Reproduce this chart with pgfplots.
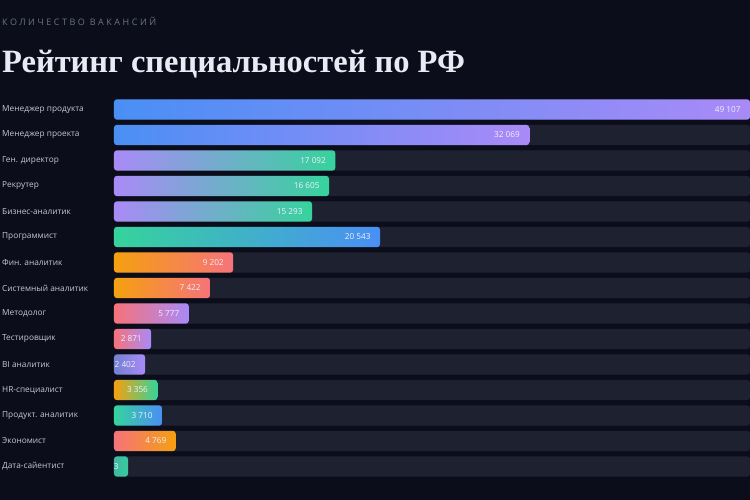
\documentclass[border=0pt]{standalone}
\usepackage{pgfplots}
\pgfplotsset{compat=1.18}
\usepackage{fontspec}
\setmainfont{Open Sans}
\newfontfamily\titlefont{Liberation Serif}
\newfontfamily\spacedfont[LetterSpace=28]{Open Sans}
\definecolor{bg}{HTML}{0B0E1A}
\definecolor{track}{HTML}{1E2130}
\definecolor{cblue}{HTML}{4A8FF5}
\definecolor{cpurple}{HTML}{A98AF7}
\definecolor{cgreen}{HTML}{36D39C}
\definecolor{corange}{HTML}{F5A00F}
\definecolor{ccoral}{HTML}{F6737A}
\definecolor{cslate}{HTML}{7381D0}
\definecolor{cteal}{HTML}{3FB9A3}
\definecolor{lbl}{HTML}{C6C9D4}
\definecolor{sub}{HTML}{6C7183}
\definecolor{ttl}{HTML}{E9EAF4}
\begin{document}
\begin{tikzpicture}[x=1pt,y=1pt]
\path[use as bounding box] (0pt,0pt) rectangle (750pt,500pt);
\fill[bg] (0pt,0pt) rectangle (750pt,500pt);
\node[anchor=base west, inner sep=0, text=sub, font=\spacedfont\fontsize{9}{10}\selectfont] at (2pt,474.5pt) {КОЛИЧЕСТВО ВАКАНСИЙ};
\node[anchor=base west, inner sep=0, text=ttl, font=\titlefont\bfseries\fontsize{32.5}{34}\selectfont] at (2pt,427.5pt) {Рейтинг специальностей по РФ};
\begin{axis}[
  at={(114pt,20.75pt)}, anchor=south west,
  scale only axis, width=636pt, height=382.5pt,
  xmin=0, xmax=49107, ymin=-0.5, ymax=14.5,
  y dir=reverse,
  axis line style={draw=none},
  major tick length=0pt,
  xtick=\empty,
  ytick={0,...,14},
  yticklabels={Менеджер продукта, Менеджер проекта, Ген. директор, Рекрутер, Бизнес-аналитик, Программист, Фин. аналитик, Системный аналитик, Методолог, Тестировщик, BI аналитик, HR-специалист, Продукт. аналитик, Экономист, Дата-сайентист},
  yticklabel style={anchor=west, inner sep=0pt, xshift=-112pt, text=lbl, font=\fontsize{8.3}{10}\selectfont},
  clip=false,
  every axis plot/.append style={xbar, bar width=0.8, bar shift=0pt, draw=none, rounded corners=3pt},
  every node near coord/.append style={anchor=east, xshift=-6pt, text=white!94!blue, font=\fontsize{8.2}{9}\selectfont},
]
\addplot[fill=track] coordinates {(49107,0) (49107,1) (49107,2) (49107,3) (49107,4) (49107,5) (49107,6) (49107,7) (49107,8) (49107,9) (49107,10) (49107,11) (49107,12) (49107,13) (49107,14)};
\addplot[left color=cblue, right color=cpurple, nodes near coords={49 107}] coordinates {(49107,0)};
\addplot[left color=cblue, right color=cpurple, nodes near coords={32 069}] coordinates {(32069,1)};
\addplot[left color=cpurple, right color=cgreen, nodes near coords={17 092}] coordinates {(17092,2)};
\addplot[left color=cpurple, right color=cgreen, nodes near coords={16 605}] coordinates {(16605,3)};
\addplot[left color=cpurple, right color=cgreen, nodes near coords={15 293}] coordinates {(15293,4)};
\addplot[left color=cgreen, right color=cblue, nodes near coords={20 543}] coordinates {(20543,5)};
\addplot[left color=corange, right color=ccoral, nodes near coords={9 202}] coordinates {(9202,6)};
\addplot[left color=corange, right color=ccoral, nodes near coords={7 422}] coordinates {(7422,7)};
\addplot[left color=ccoral, right color=cpurple, nodes near coords={5 777}] coordinates {(5777,8)};
\addplot[left color=ccoral, right color=cpurple, nodes near coords={2 871}] coordinates {(2871,9)};
\addplot[left color=cslate, right color=cpurple, nodes near coords={2 402}] coordinates {(2402,10)};
\addplot[left color=corange, right color=cgreen, nodes near coords={3 356}] coordinates {(3356,11)};
\addplot[left color=cgreen, right color=cblue, nodes near coords={3 710}] coordinates {(3710,12)};
\addplot[left color=ccoral, right color=corange, nodes near coords={4 769}] coordinates {(4769,13)};
\addplot[left color=cteal, right color=cgreen!70!cteal, nodes near coords={3}] coordinates {(1083,14)};
\end{axis}
\end{tikzpicture}
\end{document}
